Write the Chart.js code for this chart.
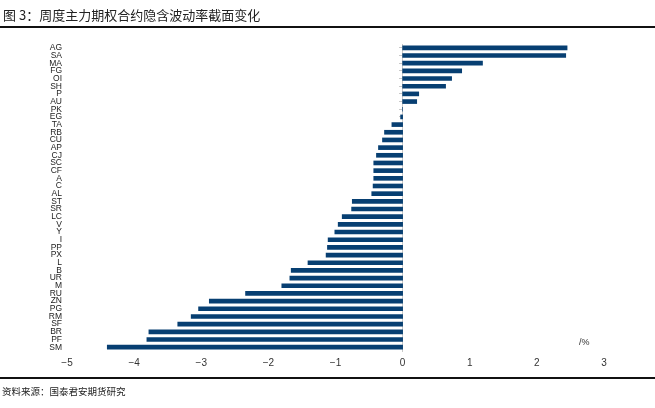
<!DOCTYPE html>
<html>
<head>
<meta charset="utf-8">
<script src="https://cdn.jsdelivr.net/npm/chart.js@4/dist/chart.umd.min.js"></script>
<style>
  body { margin: 0; background: #fff; }
  #wrap { position: relative; width: 655px; height: 408px; overflow: hidden; }
  #chart { position: absolute; left: 0; top: 0; }
  .title { position: absolute; left: 3px; top: 5px; font: 13px "Noto Sans CJK SC", sans-serif; color: #222; white-space: nowrap; }
  .rule { position: absolute; left: 0; width: 655px; height: 1.5px; background: #111; }
  .source { position: absolute; left: 2px; top: 384px; font: 9.5px "Noto Sans CJK SC", sans-serif; color: #222; white-space: nowrap; }
  .unit { position: absolute; left: 579px; top: 337px; font: 9px "Liberation Sans Narrow", "Liberation Sans", sans-serif; color: #333; }
</style>
</head>
<body>
<div id="wrap">
  <canvas id="chart" width="655" height="408"></canvas>
  <div class="title">图 3：周度主力期权合约隐含波动率截面变化</div>
  <div class="rule" style="top:26px"></div>
  <div class="rule" style="top:377px"></div>
  <div class="source">资料来源：国泰君安期货研究</div>
  <div class="unit">/%</div>
</div>
<script>
// 品种
const contracts = ['AG','SA','MA','FG','OI','SH','P','AU','PK','EG','TA','RB','CU','AP','CJ','SC','CF','A','C','AL',
                   'ST','SR','LC','V','Y','I','PP','PX','L','B','UR','M','RU','ZN','PG','RM','SF','BR','PF','SM'];
// 隐含波动率周度变化 (%)
const ivChange = [2.45, 2.43, 1.19, 0.88, 0.73, 0.64, 0.24, 0.21, 0.00, -0.03, -0.16, -0.27, -0.30, -0.36, -0.39, -0.43, -0.43, -0.43, -0.44, -0.46,
                  -0.75, -0.76, -0.90, -0.96, -1.01, -1.11, -1.12, -1.14, -1.41, -1.66, -1.68, -1.80, -2.34, -2.88, -3.04, -3.15, -3.35, -3.78, -3.81, -4.40];
const xTicks = [-5, -4, -3, -2, -1, 0, 1, 2, 3];

const narrow = '"Liberation Sans Narrow", "Liberation Sans", Arial, sans-serif';

new Chart(document.getElementById('chart').getContext('2d'), {
  type: 'bar',
  data: {
    labels: contracts,
    datasets: [{
      data: ivChange,
      backgroundColor: '#073f72',
      barThickness: 4,
      yAxisID: 'y'
    }]
  },
  options: {
    indexAxis: 'y',
    responsive: false,
    animation: false,
    layout: { padding: { left: 0, right: 51, top: 44, bottom: 37 } },
    plugins: { legend: { display: false }, tooltip: { enabled: false } },
    scales: {
      x: {
        min: -5, max: 3,
        afterBuildTicks: s => { s.ticks = xTicks.map(v => ({ value: v })); },
        afterFit: s => { s.height = 20; },
        grid: { display: false, drawTicks: false },
        border: { display: false },
        ticks: {
          padding: 6,
          color: '#333',
          font: { family: narrow, size: 10 },
          callback: v => v < 0 ? '\u2212' + Math.abs(v) : String(v)
        }
      },
      y: {
        afterFit: s => { s.width = 67; },
        grid: { display: false, drawTicks: false },
        border: { display: false },
        ticks: {
          autoSkip: false,
          padding: 5,
          color: '#222',
          font: { family: narrow, size: 8.5 }
        }
      },
      y2: {
        type: 'category',
        axis: 'y',
        labels: contracts,
        offset: true,
        position: { x: 0 },
        grid: { drawOnChartArea: false, offset: false, tickLength: 3, color: '#c8c8c8' },
        border: { color: '#c8c8c8' },
        ticks: { display: false }
      }
    }
  }
});
</script>
</body>
</html>
